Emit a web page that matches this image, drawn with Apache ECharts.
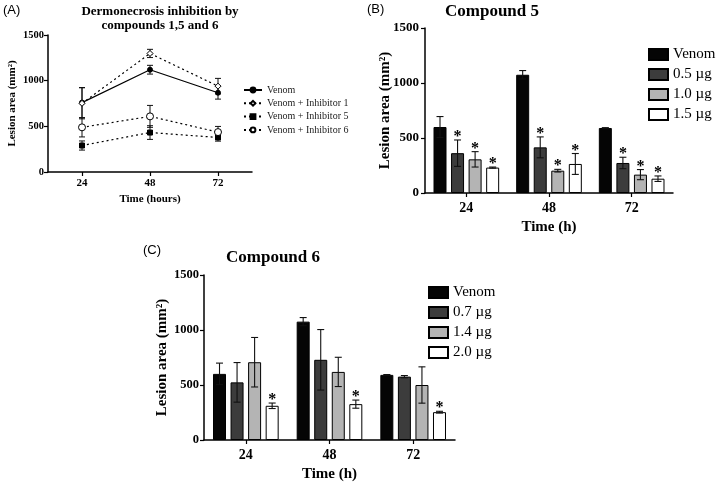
<!DOCTYPE html>
<html><head><meta charset="utf-8">
<script src="https://cdn.jsdelivr.net/npm/echarts@6/dist/echarts.min.js"></script>
<style>html,body{margin:0;padding:0;background:#fff}#c{width:721px;height:486px}</style>
</head><body><div id="c"></div>
<script>
// ---------- shared ----------
const timeCats = ['24', '48', '72'];
const yTicks = [0, 500, 1000, 1500];

// ---------- Panel A (line chart, mean ± error) ----------
const aNames = ['Venom', 'Venom + Inhibitor 1', 'Venom + Inhibitor 5', 'Venom + Inhibitor 6'];
const aVenom = [760, 1120, 868];
const aVenomErr = [165, 48, 70];
const aInh1 = [752, 1298, 940];
const aInh1Err = [170, 45, 85];
const aInh5 = [290, 432, 378];
const aInh5Err = [50, 75, 40];
const aInh6 = [489, 609, 437];
const aInh6Err = [105, 120, 62];

// ---------- Panel B (Compound 5) ----------
const bNames = ['Venom', '0.5 µg', '1.0 µg', '1.5 µg'];
const bVenom = [600, 1075, 591];
const bVenomErr = [95, 38, 3];
const b05 = [362, 415, 273];
const b05Err = [120, 95, 52];
const b10 = [306, 203, 167];
const b10Err = [70, 12, 46];
const b15 = [231, 264, 130];
const b15Err = [5, 95, 25];
const bStars = [false, true, true, true];

// ---------- Panel C (Compound 6) ----------
const cNames = ['Venom', '0.7 µg', '1.4 µg', '2.0 µg'];
const cVenom = [601, 1076, 592];
const cVenomErr = [98, 37, 3];
const c07 = [524, 729, 576];
const c07Err = [180, 275, 10];
const c14 = [707, 619, 500];
const c14Err = [225, 133, 165];
const c20 = [311, 326, 253];
const c20Err = [25, 37, 8];
const cStars = [false, false, false, true];

// ---------- styling ----------
const SERIF = '"Liberation Serif", "Times New Roman", serif';
const SANS = '"Liberation Sans", Arial, sans-serif';
const barColors = ['#050505', '#3c3c3c', '#b4b4b4', '#ffffff'];
const BAR_W = 13, BAR_GAP = 0.35;
const STEP = BAR_W * (1 + BAR_GAP);

function errRender(offset, star, cap, lw) {
  return function (params, api) {
    const i = api.value(0), v = api.value(1), e = api.value(2);
    const top = api.coord([i, v + e]);
    const bot = api.coord([i, v - e]);
    const x = top[0] + offset;
    const st = { stroke: '#111', lineWidth: lw };
    const ch = [
      { type: 'line', shape: { x1: x, y1: top[1], x2: x, y2: bot[1] }, style: st },
      { type: 'line', shape: { x1: x - cap, y1: top[1], x2: x + cap, y2: top[1] }, style: st },
      { type: 'line', shape: { x1: x - cap, y1: bot[1], x2: x + cap, y2: bot[1] }, style: st }
    ];
    if (star) {
      ch.push({ type: 'text', x: x, y: top[1] - 3,
        style: { text: '*', font: 'bold 16px ' + SERIF, textAlign: 'center', textVerticalAlign: 'middle', fill: '#000' } });
    }
    return { type: 'group', children: ch };
  };
}
function errData(vals, errs) { return vals.map((v, i) => [i, v, errs[i]]); }

function makeXAxis(gi, fs, margin, nameFs, nameGap, name) {
  return {
    type: 'category', gridIndex: gi, data: timeCats, boundaryGap: true,
    axisLine: { show: true, lineStyle: { color: '#000', width: 1.5 } },
    axisTick: { show: true, alignWithLabel: true, length: 4, lineStyle: { color: '#000', width: 1.2 } },
    axisLabel: { color: '#000', fontFamily: SERIF, fontWeight: 'bold', fontSize: fs, margin: margin },
    name: name, nameLocation: 'middle', nameGap: nameGap, nameMoveOverlap: false,
    nameTextStyle: { color: '#000', fontFamily: SERIF, fontWeight: 'bold', fontSize: nameFs },
    splitLine: { show: false }
  };
}
function makeYAxis(gi, fs, margin, nameFs, nameGap) {
  return {
    type: 'value', gridIndex: gi, min: 0, max: 1500, interval: 500,
    axisLine: { show: true, lineStyle: { color: '#000', width: 1.5 } },
    axisTick: { show: true, length: 4, lineStyle: { color: '#000', width: 1.2 } },
    axisLabel: { color: '#000', fontFamily: SERIF, fontWeight: 'bold', fontSize: fs, margin: margin,
      formatter: v => String(v) },
    splitLine: { show: false },
    name: 'Lesion area (mm²)', nameLocation: 'middle', nameGap: nameGap, nameMoveOverlap: false,
    nameTextStyle: { color: '#000', fontFamily: SERIF, fontWeight: 'bold', fontSize: nameFs }
  };
}

const series = [];
// Panel A error bars then lines
const aVals = [aVenom, aInh1, aInh5, aInh6];
const aErrs = [aVenomErr, aInh1Err, aInh5Err, aInh6Err];
aVals.forEach((v, k) => {
  series.push({ type: 'custom', name: 'errA' + k, xAxisIndex: 0, yAxisIndex: 0, z: 1,
    renderItem: errRender(0, false, 3, 1), data: errData(v, aErrs[k]), encode: { x: 0, y: 1 }, silent: true });
});
const aSym = ['circle', 'diamond', 'rect', 'circle'];
const aSize = [5, 6, 5, 7];
const aFill = ['#000', '#fff', '#000', '#fff'];
const aDash = ['solid', [2, 3], [2, 3], [2, 3]];
aVals.forEach((v, k) => {
  series.push({ type: 'line', name: 'A:' + aNames[k], xAxisIndex: 0, yAxisIndex: 0, z: 3,
    data: v, symbol: aSym[k], symbolSize: aSize[k], showAllSymbol: true,
    itemStyle: { color: aFill[k], borderColor: '#000', borderWidth: 1 },
    lineStyle: { color: '#000', width: 1.2, type: aDash[k] },
    emphasis: { disabled: true }, animation: false });
});

function barPanel(prefix, gi, names, vals, errs, stars) {
  vals.forEach((v, k) => {
    series.push({ type: 'bar', name: prefix + names[k], xAxisIndex: gi, yAxisIndex: gi,
      data: v, barWidth: BAR_W, barGap: (BAR_GAP * 100) + '%',
      itemStyle: { color: barColors[k], borderColor: '#000', borderWidth: 1 },
      emphasis: { disabled: true }, animation: false });
  });
  vals.forEach((v, k) => {
    series.push({ type: 'custom', name: 'err' + prefix + k, xAxisIndex: gi, yAxisIndex: gi, z: 5,
      renderItem: errRender((k - 1.5) * STEP, stars[k], 3.5, 1.1), data: errData(v, errs[k]),
      encode: { x: 0, y: 1 }, silent: true, animation: false });
  });
}
barPanel('B:', 1, bNames, [bVenom, b05, b10, b15], [bVenomErr, b05Err, b10Err, b15Err], bStars);
barPanel('C:', 2, cNames, [cVenom, c07, c14, c20], [cVenomErr, c07Err, c14Err, c20Err], cStars);

const strip = n => n.slice(2);
const option = {
  backgroundColor: '#fff',
  animation: false,
  grid: [
    { left: 48, top: 35, width: 204, height: 137, outerBoundsMode: 'none', containLabel: false },
    { left: 425, top: 28, width: 248, height: 165, outerBoundsMode: 'none', containLabel: false },
    { left: 204, top: 275, width: 251, height: 165, outerBoundsMode: 'none', containLabel: false }
  ],
  xAxis: [
    makeXAxis(0, 11, 6, 11, 22, 'Time (hours)'),
    makeXAxis(1, 14, 8, 15, 27, 'Time (h)'),
    makeXAxis(2, 14, 8, 15, 27, 'Time (h)')
  ],
  yAxis: [
    makeYAxis(0, 10.5, 4, 11, 30),
    makeYAxis(1, 13, 6, 15, 32),
    makeYAxis(2, 12.5, 5, 15, 34)
  ],
  legend: [
    { orient: 'vertical', left: 243, top: 85, itemWidth: 18, itemHeight: 6, itemGap: 3.3, padding: 0,
      data: aNames.map(n => 'A:' + n), formatter: strip, selectedMode: false,
      textStyle: { fontFamily: SERIF, fontSize: 10, color: '#222', lineHeight: 10 } },
    { orient: 'vertical', left: 648, top: 47, itemWidth: 19, itemHeight: 11, itemGap: 5, padding: 0,
      icon: 'rect', data: bNames.map(n => 'B:' + n), formatter: strip, selectedMode: false,
      textStyle: { fontFamily: SERIF, fontSize: 15, color: '#000', lineHeight: 15 } },
    { orient: 'vertical', left: 428, top: 285, itemWidth: 19, itemHeight: 11, itemGap: 5, padding: 0,
      icon: 'rect', data: cNames.map(n => 'C:' + n), formatter: strip, selectedMode: false,
      textStyle: { fontFamily: SERIF, fontSize: 15, color: '#000', lineHeight: 15 } }
  ],
  graphic: [
    { type: 'text', x: 3, y: 4, style: { text: '(A)', font: '13px ' + SANS, fill: '#000' } },
    { type: 'text', x: 160, y: 4, style: { text: 'Dermonecrosis inhibition by\ncompounds 1,5 and 6', font: 'bold 13px ' + SERIF,
      lineHeight: 14.5, textAlign: 'center', fill: '#000' } },
    { type: 'text', x: 367, y: 3, style: { text: '(B)', font: '13px ' + SANS, fill: '#000' } },
    { type: 'text', x: 445, y: 3, style: { text: 'Compound 5', font: 'bold 17px ' + SERIF, fill: '#000' } },
    { type: 'text', x: 143, y: 244, style: { text: '(C)', font: '13px ' + SANS, fill: '#000' } },
    { type: 'text', x: 226, y: 249, style: { text: 'Compound 6', font: 'bold 17px ' + SERIF, fill: '#000' } }
  ],
  series: series
};
const chart = echarts.init(document.getElementById('c'), null, { renderer: 'canvas' });
chart.setOption(option);
</script></body></html>
